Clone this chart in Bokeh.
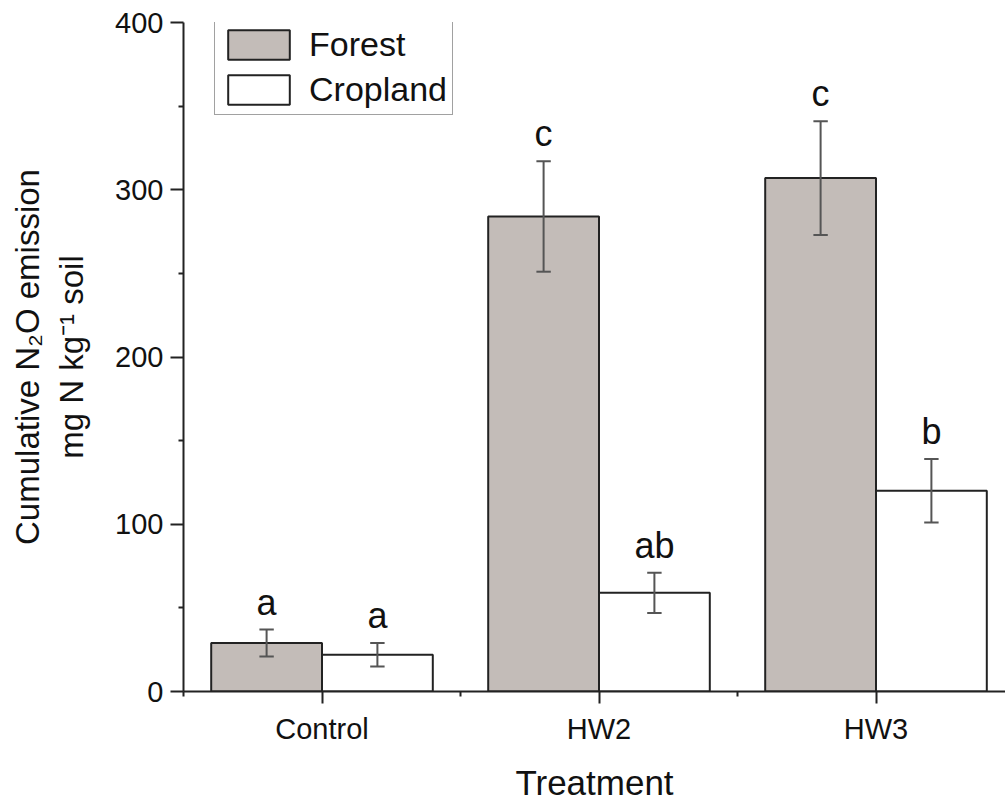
from bokeh.plotting import figure
from bokeh.models import Range1d, FixedTicker, Legend, ColumnDataSource
from bokeh.core.properties import value
from bokeh.embed import file_html
from bokeh.resources import INLINE

# Cumulative N2O emission per treatment (mean and error)
treatments = ["Control", "HW2", "HW3"]
forest_mean = [29, 284, 307]
forest_err = [8, 33, 34]
crop_mean = [22, 59, 120]
crop_err = [7, 12, 19]
forest_letters = ["a", "c", "c"]
crop_letters = ["a", "ab", "b"]
y_ticks = [0, 100, 200, 300, 400]
y_minor = [50, 150, 250, 350]

FONT = "Liberation Sans"
INK = "#222222"
GREY_FILL = "#c3bcb8"
ERR_COL = "#555555"

BAR_W = 0.4
idx = list(range(len(treatments)))
forest_x = [i - BAR_W / 2 for i in idx]
crop_x = [i + BAR_W / 2 for i in idx]

FRAME_H = 669
p = figure(width=1005, height=805,
           x_range=Range1d(-0.5, 2.4675), y_range=Range1d(0, 400),
           output_backend="svg", toolbar_location=None,
           min_border_left=183, min_border_right=0,
           min_border_top=22, min_border_bottom=114)
p.outline_line_color = None
p.xgrid.visible = False
p.ygrid.visible = False
p.background_fill_color = "white"
p.border_fill_color = "white"

r_forest = p.vbar(x=forest_x, top=forest_mean, bottom=0, width=BAR_W,
                  fill_color=GREY_FILL, line_color=INK, line_width=2)
r_crop = p.vbar(x=crop_x, top=crop_mean, bottom=0, width=BAR_W,
                fill_color="white", line_color=INK, line_width=2)

# error bars with caps
def draw_errors(xs, means, errs):
    lo = [m - e for m, e in zip(means, errs)]
    hi = [m + e for m, e in zip(means, errs)]
    cap = 0.026
    p.segment(x0=xs, y0=lo, x1=xs, y1=hi, line_color=ERR_COL, line_width=2)
    p.segment(x0=[x - cap for x in xs], y0=hi, x1=[x + cap for x in xs], y1=hi,
              line_color=ERR_COL, line_width=2)
    p.segment(x0=[x - cap for x in xs], y0=lo, x1=[x + cap for x in xs], y1=lo,
              line_color=ERR_COL, line_width=2)
    return hi

f_hi = draw_errors(forest_x, forest_mean, forest_err)
c_hi = draw_errors(crop_x, crop_mean, crop_err)

# significance letters, floated a little above each error bar
GAP = 16.5
letters = ColumnDataSource(dict(x=forest_x + crop_x,
                                y=[h + GAP for h in f_hi + c_hi],
                                t=forest_letters + crop_letters))
p.text(x="x", y="y", text="t", source=letters,
       text_align="center", text_baseline="alphabetic",
       text_font=value(FONT), text_font_size="36px", text_color="#111111")

# axes
xa = p.xaxis[0]
xa.ticker = FixedTicker(ticks=idx, minor_ticks=[-0.5, 0.5, 1.5, 2.5])
xa.major_label_overrides = {i: t for i, t in zip(idx, treatments)}
xa.axis_label = "Treatment"
ya = p.yaxis[0]
ya.ticker = FixedTicker(ticks=y_ticks, minor_ticks=y_minor)
ya.axis_label = "Cumulative N\u2082O emission\nmg N kg\u207b\u00b9 soil"

for ax in (xa, ya):
    ax.axis_line_color = INK
    ax.axis_line_width = 2
    ax.major_tick_line_color = INK
    ax.major_tick_line_width = 2
    ax.minor_tick_line_color = INK
    ax.minor_tick_line_width = 2
    ax.major_tick_in = 0
    ax.minor_tick_in = 0
    ax.minor_tick_out = 5
    ax.major_label_text_font = FONT
    ax.major_label_text_font_size = "29px"
    ax.major_label_text_color = "#111111"
    ax.axis_label_text_font = FONT
    ax.axis_label_text_font_style = "normal"
    ax.axis_label_text_color = "#111111"

xa.axis_label_text_font_size = "35px"
ya.axis_label_text_font_size = "33px"
xa.major_tick_out = 12
xa.major_label_standoff = 9
xa.axis_label_standoff = 15
ya.major_tick_out = 13
ya.major_label_standoff = 7
ya.axis_label_standoff = 22

LEG_H = 92
legend = Legend(items=[("Forest", [r_forest]), ("Cropland", [r_crop])],
                location=(31, FRAME_H - 1 - LEG_H), margin=0, padding=5, spacing=6,
                glyph_width=77, glyph_height=37, label_standoff=12,
                label_text_font=FONT, label_text_font_size="34px",
                label_text_color="#111111",
                border_line_color="#444444", border_line_width=1.5,
                background_fill_color="white", background_fill_alpha=1)
p.add_layout(legend)

open("out.html", "w").write(file_html(p, INLINE))
